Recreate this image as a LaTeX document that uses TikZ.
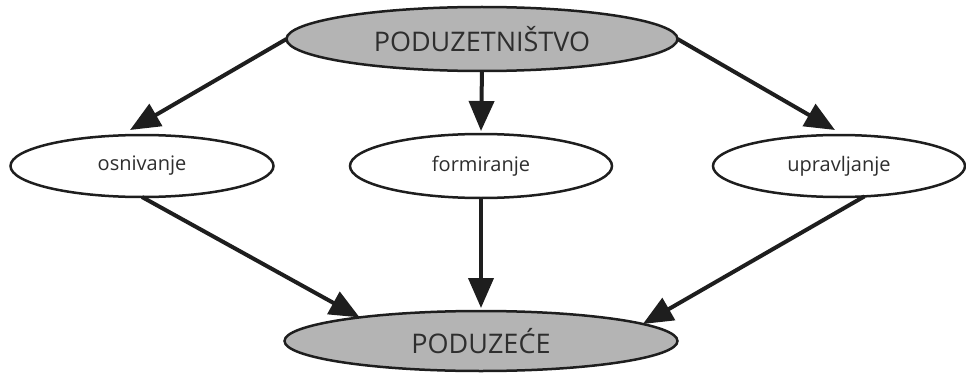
\documentclass[tikz,border=0pt]{standalone}
\usepackage{fontspec}
\setmainfont{Open Sans}
\usetikzlibrary{arrows.meta,shapes.geometric,calc}
\definecolor{fillgray}{HTML}{B4B4B4}
\definecolor{txt}{HTML}{2E2E2E}
\definecolor{ln}{HTML}{1E1E1E}
\begin{document}
\begin{tikzpicture}[x=1pt,y=1pt,
  ell/.style={ellipse,draw=ln,line width=2.5pt,inner sep=0pt,outer sep=0pt,text=txt},
  mainell/.style={ell,fill=fillgray,font=\fontsize{27}{30}\selectfont},
  subell/.style={ell,fill=white,font=\fontsize{20}{24}\selectfont},
  arr/.style={draw=ln,line width=4pt,-{Triangle[length=30pt,width=25pt]}}]
\useasboundingbox (0,0) rectangle (966,373);
\node[mainell,minimum width=391pt,minimum height=64pt] (top) at (482,334) {PODUZETNIŠTVO};
\node[subell,minimum width=263pt,minimum height=62pt] (osn) at (142,207) {osnivanje};
\node[subell,minimum width=262pt,minimum height=64pt] (form) at (481,207) {formiranje};
\node[subell,minimum width=252pt,minimum height=62pt] (upr) at (839,207) {upravljanje};
\node[mainell,minimum width=393pt,minimum height=60pt] (bot) at (481,32) {PODUZEĆE};
\draw[arr] (top.west) -- ($(osn.north)+(-12,5)$);
\draw[arr] (top.south) -- ($(form.north)+(0,3)$);
\draw[arr] (top.east) -- ($(upr.north)+(-4,5)$);
\draw[arr] (osn.south) -- (bot.169);
\draw[arr] (form.south) -- ($(bot.north)+(0,3)$);
\draw[arr] (upr.-50) -- (bot.6);
\end{tikzpicture}
\end{document}
